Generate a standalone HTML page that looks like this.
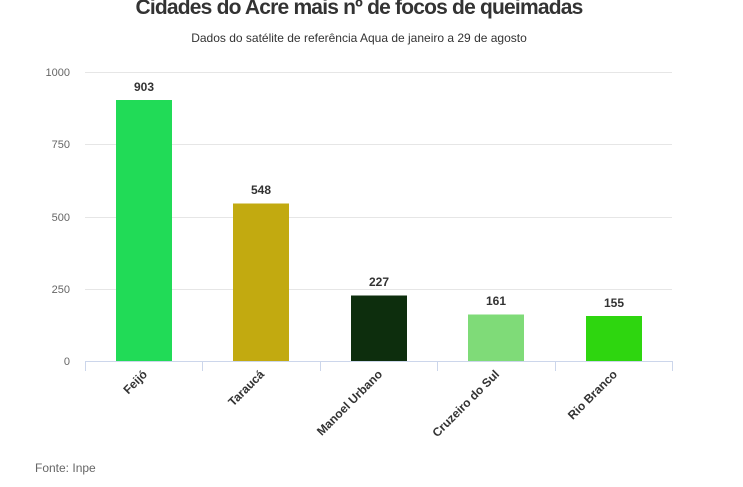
<!DOCTYPE html>
<html><head><meta charset="utf-8"><style>
body{margin:0;background:#fff;width:743px;height:487px;overflow:hidden}
svg{display:block;font-family:"Liberation Sans",sans-serif}
</style></head><body>
<svg width="743" height="487" viewBox="0 0 743 487">
<text x="359" y="14" text-anchor="middle" font-size="21" font-weight="bold" fill="#333" letter-spacing="-0.8">Cidades do Acre mais nº de focos de queimadas</text>
<text x="359" y="42" text-anchor="middle" font-size="12" fill="#333">Dados do satélite de referência Aqua de janeiro a 29 de agosto</text>
<g stroke="#e6e6e6" stroke-width="1">
<line x1="85" x2="672" y1="72.5" y2="72.5"/>
<line x1="85" x2="672" y1="144.5" y2="144.5"/>
<line x1="85" x2="672" y1="217.5" y2="217.5"/>
<line x1="85" x2="672" y1="289.5" y2="289.5"/>
</g>
<g font-size="11" fill="#666" text-anchor="end">
<text x="70" y="76">1000</text><text x="70" y="148">750</text><text x="70" y="221">500</text><text x="70" y="293">250</text><text x="70" y="365">0</text>
</g>
<rect x="116" y="100" width="56" height="261" fill="#21db57"/>
<rect x="233" y="203.5" width="56" height="157.5" fill="#c2aa10"/>
<rect x="351" y="295.5" width="56" height="65.5" fill="#0d2e0d"/>
<rect x="468" y="314.5" width="56" height="46.5" fill="#7fdb78"/>
<rect x="586" y="316" width="56" height="45" fill="#2ed60f"/>
<g font-size="12" font-weight="bold" fill="#333" text-anchor="middle">
<text x="144" y="91">903</text><text x="261" y="194">548</text><text x="379" y="286">227</text><text x="496" y="305">161</text><text x="614" y="307">155</text>
</g>
<g stroke="#ccd6eb" stroke-width="1">
<line x1="85" x2="672" y1="361.5" y2="361.5"/>
<line x1="85.5" x2="85.5" y1="361" y2="371"/><line x1="202.5" x2="202.5" y1="361" y2="371"/><line x1="320.5" x2="320.5" y1="361" y2="371"/><line x1="437.5" x2="437.5" y1="361" y2="371"/><line x1="555.5" x2="555.5" y1="361" y2="371"/><line x1="672.5" x2="672.5" y1="361" y2="371"/>
</g>
<g font-size="12" font-weight="bold" fill="#333" text-anchor="end">
<text transform="translate(148,375) rotate(-45)">Feijó</text>
<text transform="translate(265,375) rotate(-45)">Taraucá</text>
<text transform="translate(383,375) rotate(-45)">Manoel Urbano</text>
<text transform="translate(500,375) rotate(-45)">Cruzeiro do Sul</text>
<text transform="translate(618,375) rotate(-45)">Rio Branco</text>
</g>
<text x="35" y="472" font-size="12" fill="#666">Fonte: Inpe</text>
</svg>
</body></html>
